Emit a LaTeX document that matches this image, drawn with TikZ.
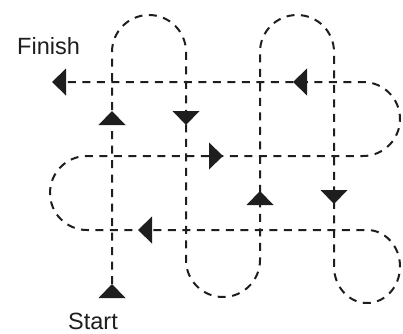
\documentclass[tikz,border=0pt]{standalone}
\usepackage{fontspec}
\setmainfont{Liberation Sans}
\definecolor{ink}{HTML}{1E1E1E}
\begin{document}
\begin{tikzpicture}[x=1pt,y=1pt,
  route/.style={draw=ink,line width=2pt,dash pattern=on 8pt off 6.5pt},
  label/.style={text=ink,font=\fontsize{23.5}{28}\selectfont,inner sep=0pt},
  tri/.pic={\fill[ink] (0,0) -- (-14,13.5) -- (-14,-13.5) -- cycle;}]
\useasboundingbox (0,0) rectangle (403,333);
% the route
\path[route] (112,49) -- (112,281) arc[start angle=180,end angle=0,radius=37]
  -- (186,73) arc[start angle=180,end angle=360,radius=37]
  -- (260,281) arc[start angle=180,end angle=0,radius=37]
  -- (334,66.5) arc[start angle=180,end angle=450,x radius=33,y radius=36.5]
  -- (87,103) arc[start angle=270,end angle=90,radius=37]
  -- (363,177) arc[start angle=270,end angle=450,radius=37]
  -- (66,251);
% arrowheads
\pic[rotate=180] at (52,251) {tri};
\pic[rotate=90] at (112,222) {tri};
\pic[rotate=-90] at (186,208) {tri};
\pic[rotate=180] at (293,251) {tri};
\pic at (223,177) {tri};
\pic[rotate=90] at (260,142) {tri};
\pic[rotate=-90] at (334,129) {tri};
\pic[rotate=180] at (138,103) {tri};
\pic[rotate=90] at (112,49) {tri};
% labels
\node[label,anchor=base west] (finish) at (17,279) {Finish};
\node[label,anchor=base west] (start) at (68,4) {Start};
\end{tikzpicture}
\end{document}
